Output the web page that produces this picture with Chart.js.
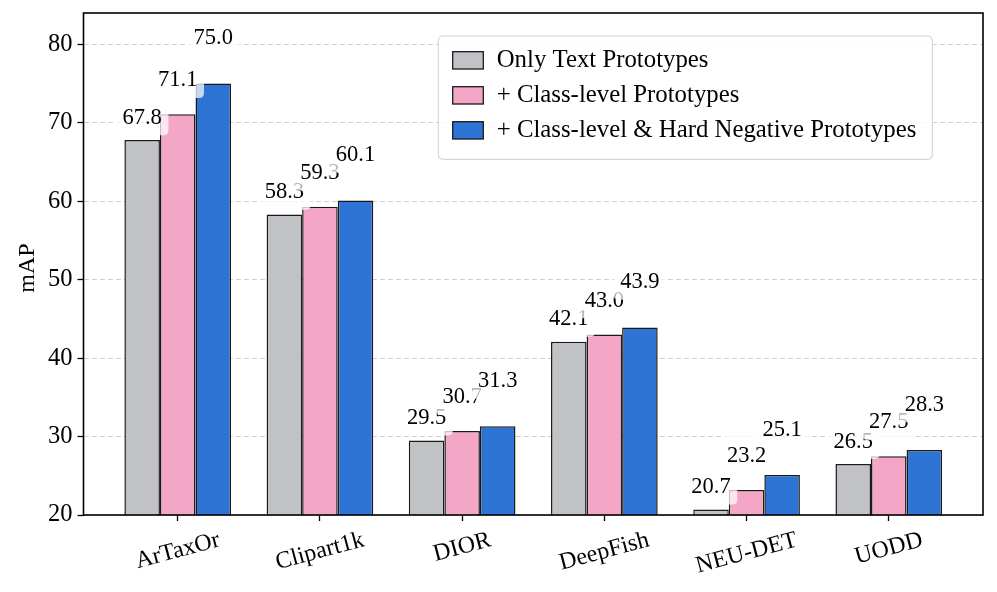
<!DOCTYPE html>
<html>
<head>
<meta charset="utf-8">
<script src="https://cdn.jsdelivr.net/npm/chart.js@4"></script>
<style>
html,body{margin:0;padding:0;background:#fff;}
#wrap{width:997px;height:592px;}
</style>
</head>
<body>
<div id="wrap"><canvas id="c" width="997" height="592"></canvas></div>
<script>
const categories = ['ArTaxOr', 'Clipart1k', 'DIOR', 'DeepFish', 'NEU-DET', 'UODD'];
const seriesNames = ['Only Text Prototypes', '+ Class-level Prototypes', '+ Class-level & Hard Negative Prototypes'];
const onlyText = [67.8, 58.3, 29.5, 42.1, 20.7, 26.5];
const classLevel = [71.1, 59.3, 30.7, 43.0, 23.2, 27.5];
const classHard = [75.0, 60.1, 31.3, 43.9, 25.1, 28.3];
const yTicks = [20, 30, 40, 50, 60, 70, 80];
const yLabel = 'mAP';

const colors = ['#c1c2c6', '#f4a6c6', '#2d74d4'];
const labelOffsets = [2.1, 3.55, 5.0];
const FONT = "'Liberation Serif', 'Times New Roman', serif";
const series = [onlyText, classLevel, classHard];

const datasets = series.map((vals, s) => ({
  label: seriesNames[s],
  data: vals.map((v, i) => ({x: i, y: v})),
  backgroundColor: colors[s],
  borderColor: '#1a1a1a',
  borderWidth: 1.5,
  borderSkipped: false,
  categoryPercentage: 0.75,
  barPercentage: 1.0
}));

function roundRect(ctx, x, y, w, h, r) {
  ctx.beginPath();
  ctx.moveTo(x + r, y);
  ctx.lineTo(x + w - r, y);
  ctx.quadraticCurveTo(x + w, y, x + w, y + r);
  ctx.lineTo(x + w, y + h - r);
  ctx.quadraticCurveTo(x + w, y + h, x + w - r, y + h);
  ctx.lineTo(x + r, y + h);
  ctx.quadraticCurveTo(x, y + h, x, y + h - r);
  ctx.lineTo(x, y + r);
  ctx.quadraticCurveTo(x, y, x + r, y);
  ctx.closePath();
}

const customPlugin = {
  id: 'custom',
  afterDatasetsDraw(chart) {
    const ctx = chart.ctx;
    const ys = chart.scales.y;
    ctx.save();
    const fs = 22.5;
    ctx.font = fs + 'px ' + FONT;
    ctx.textAlign = 'center';
    ctx.textBaseline = 'alphabetic';
    series.forEach((vals, s) => {
      const meta = chart.getDatasetMeta(s);
      vals.forEach((v, i) => {
        const bar = meta.data[i];
        const cx = bar.x;
        const by = ys.getPixelForValue(v + labelOffsets[s]);
        const txt = v.toFixed(1);
        const w = ctx.measureText(txt).width;
        const pad = 6.6;
        const bx = cx - w / 2 - pad;
        const bt = by - 0.9 * fs - pad;
        const bh = 0.9 * fs + 0.22 * fs + 2 * pad;
        ctx.fillStyle = 'rgba(255,255,255,0.72)';
        roundRect(ctx, bx, bt, w + 2 * pad, bh, 5);
        ctx.fill();
        ctx.fillStyle = '#000';
        ctx.fillText(txt, cx, by);
      });
    });
    ctx.restore();
  },
  afterDraw(chart) {
    const ctx = chart.ctx;
    const a = chart.chartArea;
    const xs = chart.scales.x;
    ctx.save();
    // frame
    ctx.strokeStyle = '#000';
    ctx.lineWidth = 1.6;
    ctx.strokeRect(a.left, a.top, a.right - a.left, a.bottom - a.top);
    // x labels rotated
    const fs = 24;
    ctx.font = fs + 'px ' + FONT;
    ctx.fillStyle = '#000';
    ctx.textAlign = 'center';
    ctx.textBaseline = 'middle';
    const ang = 15 * Math.PI / 180;
    categories.forEach((c, i) => {
      const px = xs.getPixelForValue(i);
      const w = ctx.measureText(c).width;
      const h = 1.1 * fs;
      const H = w * Math.sin(ang) + h * Math.cos(ang);
      const cy = a.bottom + 12 + H / 2;
      ctx.save();
      ctx.translate(px, cy);
      ctx.rotate(-ang);
      ctx.fillText(c, 0, 0);
      ctx.restore();
    });
    // y title
    ctx.save();
    ctx.font = '24px ' + FONT;
    ctx.translate(28, (a.top + a.bottom) / 2 + 4);
    ctx.rotate(-Math.PI / 2);
    ctx.textAlign = 'center';
    ctx.textBaseline = 'middle';
    ctx.fillText(yLabel, 0, 0);
    ctx.restore();
    // legend
    const lx = 438.3, ly = 36, lw = 494, lh = 123.3;
    ctx.fillStyle = 'rgba(255,255,255,0.85)';
    roundRect(ctx, lx, ly, lw, lh, 5);
    ctx.fill();
    ctx.strokeStyle = '#d6d6d6';
    ctx.lineWidth = 1.2;
    ctx.stroke();
    ctx.font = '24.8px ' + FONT;
    ctx.textAlign = 'left';
    ctx.textBaseline = 'middle';
    seriesNames.forEach((n, s) => {
      const py = 51.7 + s * 35;
      ctx.fillStyle = colors[s];
      ctx.fillRect(452.7, py, 30.6, 17.3);
      ctx.strokeStyle = '#1a1a1a';
      ctx.lineWidth = 1.3;
      ctx.strokeRect(452.7, py, 30.6, 17.3);
      ctx.fillStyle = '#000';
      ctx.fillText(n, 496.7, py + 9);
    });
    ctx.restore();
  }
};

new Chart(document.getElementById('c'), {
  type: 'bar',
  data: { datasets },
  options: {
    responsive: false,
    animation: false,
    devicePixelRatio: 1,
    layout: { padding: { top: 13, right: 14, left: 0, bottom: 0 } },
    plugins: { legend: { display: false }, tooltip: { enabled: false } },
    scales: {
      x: {
        type: 'linear',
        min: -0.6625,
        max: 5.6625,
        offset: false,
        ticks: { stepSize: 1, includeBounds: false, display: false, autoSkip: false },
        grid: { offset: false, drawOnChartArea: false, drawTicks: true, tickLength: 6, tickColor: '#000', tickWidth: 1.3 },
        border: { display: false },
        afterFit(scale) {
          scale.height = 77;
          scale.paddingLeft = 0; scale.paddingRight = 0;
          scale.paddingTop = 0; scale.paddingBottom = 0;
        }
      },
      y: {
        min: 20,
        max: 84,
        ticks: {
          stepSize: 10,
          includeBounds: false,
          color: '#000',
          padding: 5,
          font: { family: FONT, size: 24.5 },
          callback: (v) => (yTicks.includes(v) ? String(v) : '')
        },
        grid: { color: '#cfcfcf', lineWidth: 1, drawTicks: true, tickLength: 6, tickColor: '#000', tickWidth: 1.3 },
        border: { display: false, dash: [5, 3] },
        afterFit(scale) {
          scale.width = 83.5;
          scale.paddingLeft = 0; scale.paddingRight = 0;
          scale.paddingTop = 0; scale.paddingBottom = 0;
        }
      }
    }
  },
  plugins: [customPlugin]
});
</script>
</body>
</html>
